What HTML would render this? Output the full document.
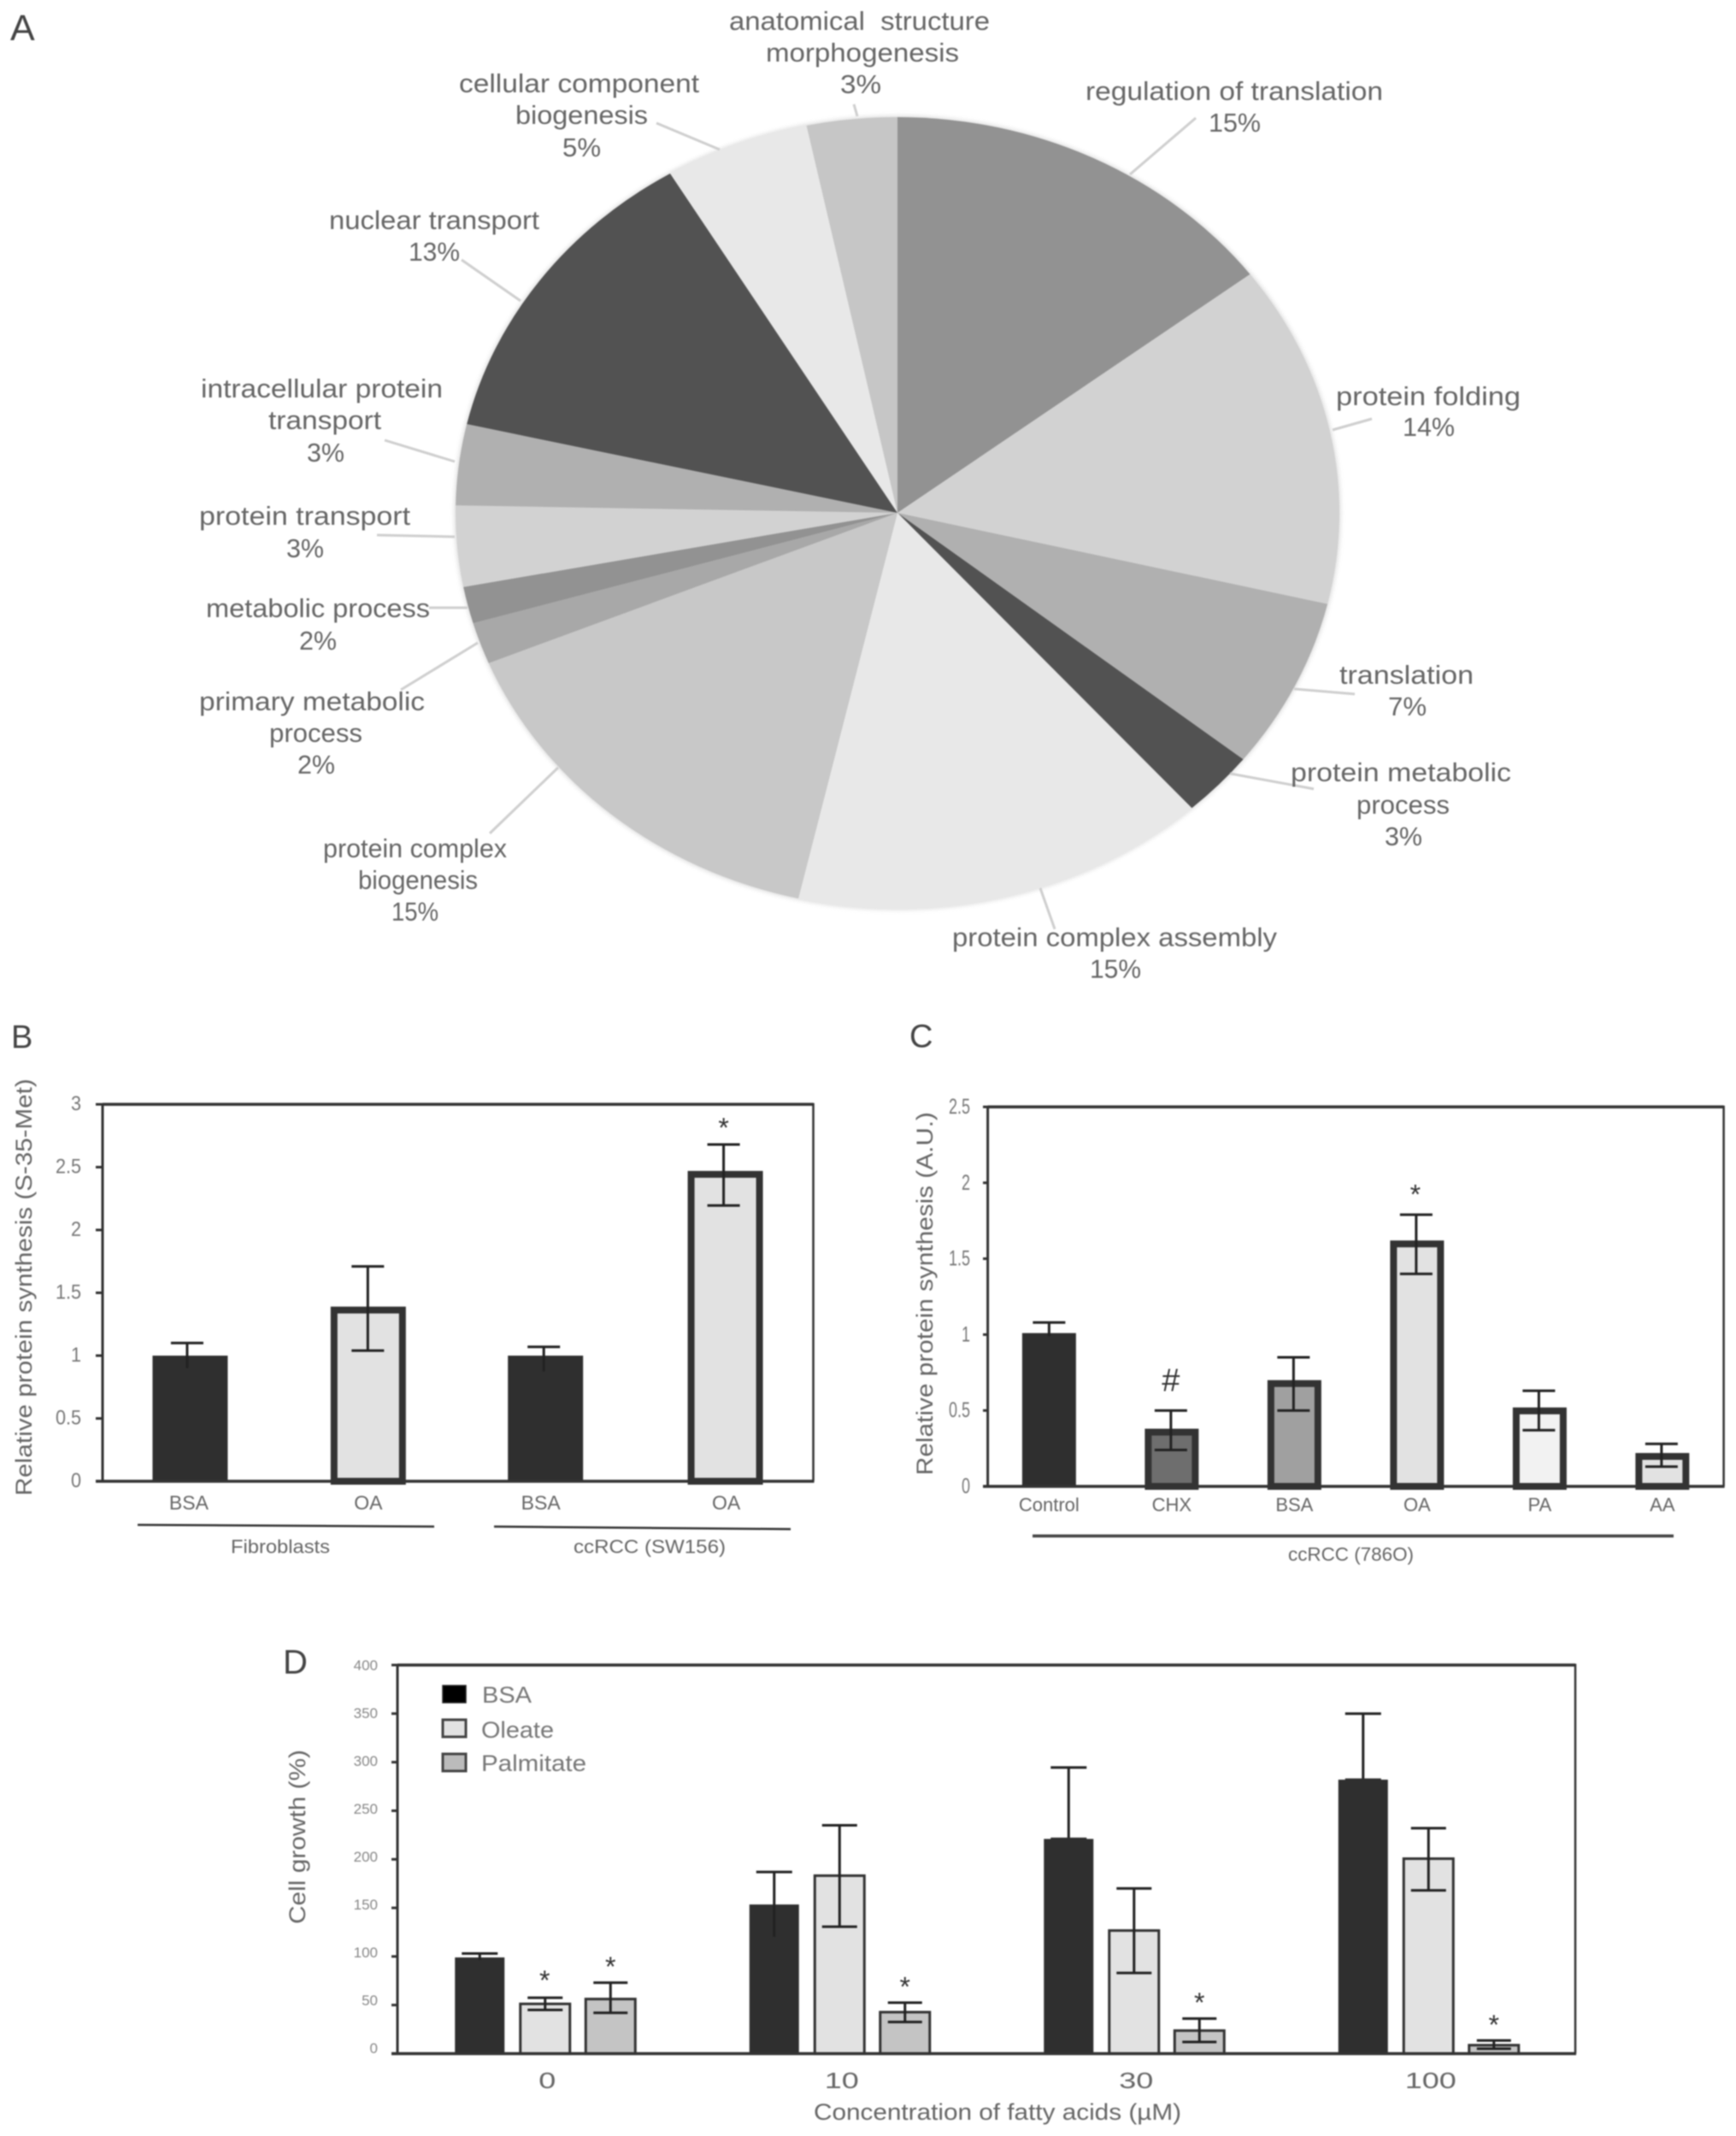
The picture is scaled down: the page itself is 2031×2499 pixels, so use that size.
<!DOCTYPE html>
<html>
<head>
<meta charset="utf-8">
<title>Protein synthesis figure</title>
<style>
html,body{margin:0;padding:0;background:#fff;}
#figure{display:block;width:2031px;height:2499px;filter:blur(0.7px);font-family:"Liberation Sans",sans-serif;}
.pl{font-size:31px;fill:#666;}
.letter{fill:#444;}
.grp{font-size:22px;fill:#666;}
.ytitle{fill:#666;font-size:27px;}
</style>
</head>
<body>
<svg id="figure" xmlns="http://www.w3.org/2000/svg" width="2031" height="2499" viewBox="0 0 2031 2499">
  <defs>
    <filter id="pie-soft" x="-5%" y="-5%" width="110%" height="110%">
      <feGaussianBlur stdDeviation="3"/>
    </filter>
  </defs>
  <rect x="0" y="0" width="2031" height="2499" fill="#ffffff"/>
  <text class="letter" x="12" y="47" font-size="43">A</text>
  <text class="letter" x="13" y="1226" font-size="38">B</text>
  <text class="letter" x="1064" y="1225" font-size="38">C</text>
  <text class="letter" x="331" y="1958" font-size="40">D</text>

  <g id="pie"></g>

  <g id="pie-leaders" stroke="#cfcfcf" stroke-width="3" fill="none">
    <line x1="999" y1="122" x2="1003" y2="136"/>
    <line x1="768" y1="144" x2="842" y2="175"/>
    <line x1="540" y1="304" x2="609" y2="352"/>
    <line x1="450" y1="515" x2="532" y2="540"/>
    <line x1="441" y1="626" x2="532" y2="628"/>
    <line x1="502" y1="711" x2="547" y2="711"/>
    <line x1="469" y1="807" x2="559" y2="752"/>
    <line x1="573" y1="975" x2="653" y2="898"/>
    <line x1="1234" y1="1087" x2="1217" y2="1039"/>
    <line x1="1439" y1="905" x2="1537" y2="923"/>
    <line x1="1514" y1="806" x2="1585" y2="812"/>
    <line x1="1559" y1="503" x2="1605" y2="490"/>
    <line x1="1322" y1="204" x2="1399" y2="138"/>
  </g>

  <g id="pie-labels">
    <text class="pl" x="853" y="35" textLength="305" lengthAdjust="spacingAndGlyphs" style="white-space:pre">anatomical  structure</text>
    <text class="pl" x="896" y="72" textLength="226" lengthAdjust="spacingAndGlyphs">morphogenesis</text>
    <text class="pl" x="983" y="109" textLength="48" lengthAdjust="spacingAndGlyphs">3%</text>
    <text class="pl" x="537" y="108" textLength="281" lengthAdjust="spacingAndGlyphs">cellular component</text>
    <text class="pl" x="603" y="145" textLength="155" lengthAdjust="spacingAndGlyphs">biogenesis</text>
    <text class="pl" x="658" y="183" textLength="45" lengthAdjust="spacingAndGlyphs">5%</text>
    <text class="pl" x="385" y="268" textLength="246" lengthAdjust="spacingAndGlyphs">nuclear transport</text>
    <text class="pl" x="478" y="305" textLength="60" lengthAdjust="spacingAndGlyphs">13%</text>
    <text class="pl" x="235" y="465" textLength="283" lengthAdjust="spacingAndGlyphs">intracellular protein</text>
    <text class="pl" x="314" y="502" textLength="132" lengthAdjust="spacingAndGlyphs">transport</text>
    <text class="pl" x="359" y="540" textLength="44" lengthAdjust="spacingAndGlyphs">3%</text>
    <text class="pl" x="233" y="614" textLength="247" lengthAdjust="spacingAndGlyphs">protein transport</text>
    <text class="pl" x="335" y="652" textLength="44" lengthAdjust="spacingAndGlyphs">3%</text>
    <text class="pl" x="241" y="722" textLength="262" lengthAdjust="spacingAndGlyphs">metabolic process</text>
    <text class="pl" x="350" y="760" textLength="44" lengthAdjust="spacingAndGlyphs">2%</text>
    <text class="pl" x="233" y="831" textLength="264" lengthAdjust="spacingAndGlyphs">primary metabolic</text>
    <text class="pl" x="315" y="868" textLength="109" lengthAdjust="spacingAndGlyphs">process</text>
    <text class="pl" x="348" y="905" textLength="44" lengthAdjust="spacingAndGlyphs">2%</text>
    <text class="pl" x="378" y="1003" textLength="215" lengthAdjust="spacingAndGlyphs">protein complex</text>
    <text class="pl" x="419" y="1040" textLength="140" lengthAdjust="spacingAndGlyphs">biogenesis</text>
    <text class="pl" x="458" y="1077" textLength="55" lengthAdjust="spacingAndGlyphs">15%</text>
    <text class="pl" x="1567" y="800" textLength="157" lengthAdjust="spacingAndGlyphs">translation</text>
    <text class="pl" x="1624" y="837" textLength="45" lengthAdjust="spacingAndGlyphs">7%</text>
    <text class="pl" x="1510" y="914" textLength="258" lengthAdjust="spacingAndGlyphs">protein metabolic</text>
    <text class="pl" x="1587" y="952" textLength="109" lengthAdjust="spacingAndGlyphs">process</text>
    <text class="pl" x="1620" y="989" textLength="44" lengthAdjust="spacingAndGlyphs">3%</text>
    <text class="pl" x="1114" y="1107" textLength="380" lengthAdjust="spacingAndGlyphs">protein complex assembly</text>
    <text class="pl" x="1275" y="1144" textLength="60" lengthAdjust="spacingAndGlyphs">15%</text>
    <text class="pl" x="1270" y="117" textLength="348" lengthAdjust="spacingAndGlyphs">regulation of translation</text>
    <text class="pl" x="1414" y="154" textLength="61" lengthAdjust="spacingAndGlyphs">15%</text>
    <text class="pl" x="1563" y="474" textLength="216" lengthAdjust="spacingAndGlyphs">protein folding</text>
    <text class="pl" x="1641" y="510" textLength="61" lengthAdjust="spacingAndGlyphs">14%</text>
  </g>

  <g id="chart-b"></g>
  <text class="ytitle" transform="translate(37,1750) rotate(-90)" textLength="488" lengthAdjust="spacingAndGlyphs">Relative protein synthesis (S-35-Met)</text>
  <line x1="161" y1="1784" x2="508" y2="1786" stroke="#333" stroke-width="2.5"/>
  <line x1="578" y1="1786" x2="925" y2="1789" stroke="#333" stroke-width="2.5"/>
  <text class="grp" x="270" y="1817" textLength="116" lengthAdjust="spacingAndGlyphs">Fibroblasts</text>
  <text class="grp" x="671" y="1817" textLength="178" lengthAdjust="spacingAndGlyphs">ccRCC (SW156)</text>

  <g id="chart-c"></g>
  <text class="ytitle" transform="translate(1091,1726) rotate(-90)" textLength="425" lengthAdjust="spacingAndGlyphs">Relative protein synthesis (A.U.)</text>
  <line x1="1208" y1="1797" x2="1958" y2="1797" stroke="#444" stroke-width="3.5"/>
  <text class="grp" x="1507" y="1826" textLength="147" lengthAdjust="spacingAndGlyphs">ccRCC (786O)</text>

  <g id="chart-d"></g>
  <text class="ytitle" transform="translate(357,2251) rotate(-90)" textLength="204" lengthAdjust="spacingAndGlyphs">Cell growth (%)</text>
  <text x="952" y="2480" font-size="27" fill="#666" textLength="430" lengthAdjust="spacingAndGlyphs">Concentration of fatty acids (µM)</text>

  <g id="legend-d">
    <rect x="518" y="1972" width="27" height="20" fill="#000" stroke="#222" stroke-width="1.5"/>
    <text x="564" y="1992" font-size="27" fill="#777" textLength="58" lengthAdjust="spacingAndGlyphs">BSA</text>
    <rect x="518" y="2012" width="27" height="20" fill="#e2e2e2" stroke="#444" stroke-width="3"/>
    <text x="563" y="2033" font-size="27" fill="#777" textLength="85" lengthAdjust="spacingAndGlyphs">Oleate</text>
    <rect x="518" y="2052" width="27" height="20" fill="#bbbbbb" stroke="#444" stroke-width="3"/>
    <text x="563" y="2072" font-size="27" fill="#777" textLength="123" lengthAdjust="spacingAndGlyphs">Palmitate</text>
  </g>
</svg>

<script>
// ---- Panel A data ----
const pieCategories = ['regulation of translation','protein folding','translation','protein metabolic process','protein complex assembly','protein complex biogenesis','primary metabolic process','metabolic process','protein transport','intracellular protein transport','nuclear transport','cellular component biogenesis','anatomical structure morphogenesis'];
const pieShares = [14.7,14,7,2.7,15.2,15.2,1.7,1.5,3.3,3.3,12.8,5.3,3.3];

// ---- Panel B data ----
const bCategories = ['BSA','OA','BSA','OA'];
const bValues = [1.0,1.39,1.0,2.47];
const bErrHigh = [1.10,1.71,1.07,2.68];
const bErrLow = [0.89,1.04,0.865,2.195];
const bTicks = [0,0.5,1,1.5,2,2.5,3];
const bStarred = [3];

// ---- Panel C data ----
const cCategories = ['Control','CHX','BSA','OA','PA','AA'];
const cValues = [1.01,0.38,0.70,1.62,0.52,0.22];
const cErrHigh = [1.08,0.50,0.85,1.79,0.63,0.28];
const cErrLow = [0.98,0.24,0.50,1.40,0.37,0.13];
const cTicks = [0,0.5,1,1.5,2,2.5];
const cStarred = [3];
const cHashed = [1];

// ---- Panel D data ----
const dCategories = ['0','10','30','100'];
const dBsa = [99,153.5,221,282];
const dOleate = [52.5,184.5,128,202];
const dPalmitate = [57.5,44,25,10];
const dBsaHigh = [103,187,294.5,350];
const dBsaLow = [95,119,221,282];
const dOleateHigh = [57.5,235,170,232];
const dOleateLow = [45,130.6,83,168];
const dPalmitateHigh = [73,52.4,36,13.5];
const dPalmitateLow = [42,32.5,12,5];
const dTicks = [0,50,100,150,200,250,300,350,400];
const dStarredOleate = [0];
const dStarredPalmitate = [0,1,2,3];

const NS = 'http://www.w3.org/2000/svg';
const pieColors = ['#929292','#d2d2d2','#b0b0b0','#525252','#e8e8e8','#c8c8c8','#a8a8a8','#929292','#d2d2d2','#b0b0b0','#525252','#e8e8e8','#c6c6c6'];
const DARK_BAR = '#2f2f2f';
const ERR = '#222';

function make(tag, parent) {
  const el = document.createElementNS(NS, tag);
  parent.appendChild(el);
  return el;
}
function setLine(el, x1, y1, x2, y2, color, w) {
  el.setAttribute('x1', x1);
  el.setAttribute('y1', y1);
  el.setAttribute('x2', x2);
  el.setAttribute('y2', y2);
  el.setAttribute('stroke', color);
  el.setAttribute('stroke-width', w);
}
function setText(el, x, y, str, size, color, anchor) {
  el.setAttribute('x', x);
  el.setAttribute('y', y);
  el.setAttribute('font-size', size);
  el.setAttribute('fill', color);
  el.setAttribute('text-anchor', anchor);
  el.textContent = str;
}
function setBar(el, cx, width, top, base, strokeW, fill, strokeColor) {
  el.setAttribute('x', cx - width / 2 + strokeW / 2);
  el.setAttribute('y', top + strokeW / 2);
  el.setAttribute('width', width - strokeW);
  el.setAttribute('height', Math.max(0, base - top - strokeW / 2));
  el.setAttribute('fill', fill);
  el.setAttribute('stroke', strokeColor);
  el.setAttribute('stroke-width', strokeW);
}

// ---- Pie ----
(function drawPie() {
  const g = document.getElementById('pie');
  const cx = 1050, cy = 600, rx = 517, ry = 463;
  const total = pieShares.reduce(function (a, b) { return a + b; }, 0);
  const halo = make('ellipse', g);
  
  
  halo.setAttribute('cx', cx);
  halo.setAttribute('cy', cy);
  halo.setAttribute('rx', rx + 1);
  halo.setAttribute('ry', ry + 1);
  halo.setAttribute('fill', '#d8d8d8');
  halo.setAttribute('filter', 'url(#pie-soft)');
  let acc = 0;
  pieShares.forEach(function (share, i) {
    const a0 = acc / total * 2 * Math.PI;
    acc += share;
    const a1 = acc / total * 2 * Math.PI;
    const x0 = cx + rx * Math.sin(a0), y0 = cy - ry * Math.cos(a0);
    const x1 = cx + rx * Math.sin(a1), y1 = cy - ry * Math.cos(a1);
    const large = (a1 - a0) > Math.PI ? 1 : 0;
    const slice = make('path', g);
    
    
    slice.setAttribute('d', 'M' + cx + ' ' + cy + 'L' + x0 + ' ' + y0 + 'A' + rx + ' ' + ry + ' 0 ' + large + ' 1 ' + x1 + ' ' + y1 + 'Z');
    slice.setAttribute('fill', pieColors[i]);
    const title = make('title', slice);
    title.textContent = pieCategories[i];
  });
})();

// ---- Shared frame and y axis ----
function drawFrame(g, left, right, top, bottom, yOf, ticks, tickLeft, cfg) {
  const axisTop = make('line', g);
  
  
  setLine(axisTop, left, top, right, top, '#333', 3.5);
  const axisRight = make('line', g);
  
  
  setLine(axisRight, right, top - 1.5, right, bottom, '#333', 2.5);
  const axisLeft = make('line', g);
  
  
  setLine(axisLeft, left, top - 1.5, left, bottom, '#333', 3);
  const axisBottom = make('line', g);
  
  
  setLine(axisBottom, tickLeft, bottom, right + 1, bottom, '#333', 3.5);
  ticks.forEach(function (v) {
    const y = yOf(v);
    const tick = make('line', g);
    
    
    setLine(tick, tickLeft, y, left, y, '#333', 3);
    const label = make('text', g);
    
    
    const ly = cfg.labelY(v);
    setText(label, 0, 0, String(v), cfg.size, cfg.color, 'end');
    label.setAttribute('transform', 'translate(' + cfg.labelX + ',' + ly + ') scale(' + cfg.squeeze + ',1)');
  });
}
function drawErr(g, x, hiY, loY, capW, w, color, lowCapColor) {
  const stem = make('line', g);
  
  
  setLine(stem, x, hiY, x, loY, color, w);
  const capHi = make('line', g);
  
  
  setLine(capHi, x - capW / 2, hiY, x + capW / 2, hiY, color, w);
  const capLo = make('line', g);
  
  
  setLine(capLo, x - capW / 2, loY, x + capW / 2, loY, lowCapColor, w);
}
function drawMark(g, x, centerY, ch, size) {
  const mark = make('text', g);
  
  
  setText(mark, x, centerY + (ch === '*' ? 0.58 : 0.35) * size, ch, size, '#333', 'middle');
}

// ---- Panel B ----
(function drawB() {
  const g = document.getElementById('chart-b');
  const left = 120, right = 951.5, top = 1292, bottom = 1733;
  const yOf = function (v) { return bottom - v * (bottom - top) / 3; };
  const xOf = function (i) { return left + (i + 0.5) * (right - left) / bCategories.length; };
  const fills = [DARK_BAR, '#e2e2e2', DARK_BAR, '#e2e2e2'];
  const strokes = [1, 8, 1, 8];
  const barNudge = [-1.5, -1, -1.5, 1];
  const labelNudge = [-3, -1, -7, 2];
  const errNudge = [-5, -1.5, -3.5, -1];
  bValues.forEach(function (v, i) {
    const bar = make('rect', g);
    
    
    setBar(bar, xOf(i) + barNudge[i], 88, yOf(v), bottom, strokes[i], fills[i], '#333');
    const label = make('text', g);
    
    
    setText(label, xOf(i) + labelNudge[i], 1766, bCategories[i], 23, '#666', 'middle');
  });
  drawFrame(g, left, right, top, bottom, yOf, bTicks, 112, {
    size: 24, color: '#777', labelX: 95, squeeze: 0.9,
    labelY: function (v) { return yOf(v) + 7; }
  });
  bValues.forEach(function (v, i) {
    drawErr(g, xOf(i) + errNudge[i], yOf(bErrHigh[i]), yOf(bErrLow[i]), 38, 3, ERR, fills[i] === DARK_BAR ? DARK_BAR : ERR);
  });
  bStarred.forEach(function (i) {
    drawMark(g, xOf(i) + errNudge[i], yOf(bErrHigh[i]) - 27, '*', 32);
  });
})();

// ---- Panel C ----
(function drawC() {
  const g = document.getElementById('chart-c');
  const left = 1155.6, right = 2016.6, top = 1295, bottom = 1739;
  const yOf = function (v) { return bottom - v * (bottom - top) / 2.5; };
  const xOf = function (i) { return left + (i + 0.5) * (right - left) / cCategories.length; };
  const fills = [DARK_BAR, '#6e6e6e', '#a0a0a0', '#e2e2e2', '#f2f2f2', '#e2e2e2'];
  const strokes = [1, 8, 8, 8, 8, 8];
  cValues.forEach(function (v, i) {
    const bar = make('rect', g);
    
    
    setBar(bar, xOf(i), 63, yOf(v), bottom, strokes[i], fills[i], '#333');
    const label = make('text', g);
    
    
    setText(label, xOf(i), 1768, cCategories[i], 22, '#666', 'middle');
  });
  drawFrame(g, left, right, top, bottom, yOf, cTicks, 1150, {
    size: 25, color: '#777', labelX: 1135, squeeze: 0.72,
    labelY: function (v) { return yOf(v) + 8; }
  });
  cValues.forEach(function (v, i) {
    drawErr(g, xOf(i) + (i === 0 ? 0 : -1), yOf(cErrHigh[i]), yOf(cErrLow[i]), 38, 3, ERR, fills[i] === DARK_BAR ? DARK_BAR : ERR);
  });
  cStarred.forEach(function (i) {
    drawMark(g, xOf(i) - 2, yOf(cErrHigh[i]) - 31, '*', 32);
  });
  cHashed.forEach(function (i) {
    drawMark(g, xOf(i) - 1, yOf(cErrHigh[i]) - 36, '#', 38);
  });
})();

// ---- Panel D ----
(function drawD() {
  const g = document.getElementById('chart-d');
  const left = 465, right = 1843, top = 1948, bottom = 2402.6;
  const yOf = function (v) { return bottom - v * (bottom - top) / 400; };
  const xOf = function (i) { return left + (i + 0.5) * (right - left) / dCategories.length; };
  dCategories.forEach(function (cat, i) {
    const label = make('text', g);
    
    
    setText(label, xOf(i) + 3, 2443, cat, 26, '#666', 'middle');
    label.setAttribute('textLength', 20 * cat.length);
    label.setAttribute('lengthAdjust', 'spacingAndGlyphs');

    const barBsa = make('rect', g);
    
    
    setBar(barBsa, xOf(i) - 76, 58, yOf(dBsa[i]), bottom, 2, DARK_BAR, DARK_BAR);

    const barOleate = make('rect', g);
    
    
    setBar(barOleate, xOf(i) + 0.5, 61, yOf(dOleate[i]), bottom, 3, '#e2e2e2', '#333');

    const barPalmitate = make('rect', g);
    
    
    setBar(barPalmitate, xOf(i) + 77, 61, yOf(dPalmitate[i]), bottom, 3, '#c4c4c4', '#333');
  });
  drawFrame(g, left, right, top, bottom, yOf, dTicks, 458, {
    size: 17, color: '#888', labelX: 442, squeeze: 1,
    labelY: function (v) { return 2402 - v * 1.12; }
  });
  dCategories.forEach(function (cat, i) {
    drawErr(g, xOf(i) - 76, yOf(dBsaHigh[i]), yOf(dBsaLow[i]), 42, 3, ERR, DARK_BAR);
    drawErr(g, xOf(i) + 0.5, yOf(dOleateHigh[i]), yOf(dOleateLow[i]), 41, 3, ERR, ERR);
    drawErr(g, xOf(i) + 77, yOf(dPalmitateHigh[i]), yOf(dPalmitateLow[i]), 40, 3, ERR, ERR);
  });
  dStarredOleate.forEach(function (i) {
    drawMark(g, xOf(i), yOf(dOleateHigh[i]) - 28, '*', 32);
  });
  dStarredPalmitate.forEach(function (i) {
    drawMark(g, xOf(i) + 77, yOf(dPalmitateHigh[i]) - 26, '*', 32);
  });
})();
</script>
</body>
</html>
